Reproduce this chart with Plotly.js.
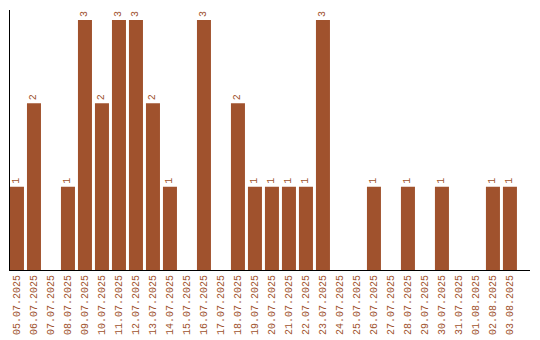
<!DOCTYPE html>
<html><head><meta charset="utf-8">
<script src="https://cdn.plot.ly/plotly-3.0.1.min.js"></script>
<style>html,body{margin:0;padding:0;background:#fff}#c{width:540px;height:340px}</style>
</head><body><div id="c"></div>
<script>
const dates = ["05.07.2025","06.07.2025","07.07.2025","08.07.2025","09.07.2025","10.07.2025","11.07.2025","12.07.2025","13.07.2025","14.07.2025","15.07.2025","16.07.2025","17.07.2025","18.07.2025","19.07.2025","20.07.2025","21.07.2025","22.07.2025","23.07.2025","24.07.2025","25.07.2025","26.07.2025","27.07.2025","28.07.2025","29.07.2025","30.07.2025","31.07.2025","01.08.2025","02.08.2025","03.08.2025"];
const counts = [1,2,0,1,3,2,3,3,2,1,0,3,0,2,1,1,1,1,3,0,0,1,0,1,0,1,0,0,1,1];
const color = "#A0522D";
const font = "Liberation Mono, DejaVu Sans Mono, monospace";
Plotly.newPlot("c", [{
  type: "bar", x: dates, y: counts,
  marker: {color: color},
  text: counts.map(v => v ? String(v) : ""),
  textposition: "outside", textangle: -90, cliponaxis: false,
  textfont: {family: font, size: 10, color: color},
  hoverinfo: "none"
}], {
  width: 540, height: 340,
  margin: {l: 10, r: 10, t: 10, b: 70},
  bargap: 0.176,
  showlegend: false,
  paper_bgcolor: "#fff", plot_bgcolor: "#fff",
  xaxis: {type: "category", range: [-0.41, 30.18], showline: true, linecolor: "#000", linewidth: 1,
    tickangle: -90, tickfont: {family: font, size: 10, color: color},
    ticks: "", showgrid: false, zeroline: false},
  yaxis: {range: [0, 3.12], showline: true, linecolor: "#000", linewidth: 1,
    showticklabels: false, ticks: "", showgrid: false, zeroline: false}
}, {staticPlot: true});
</script></body></html>
